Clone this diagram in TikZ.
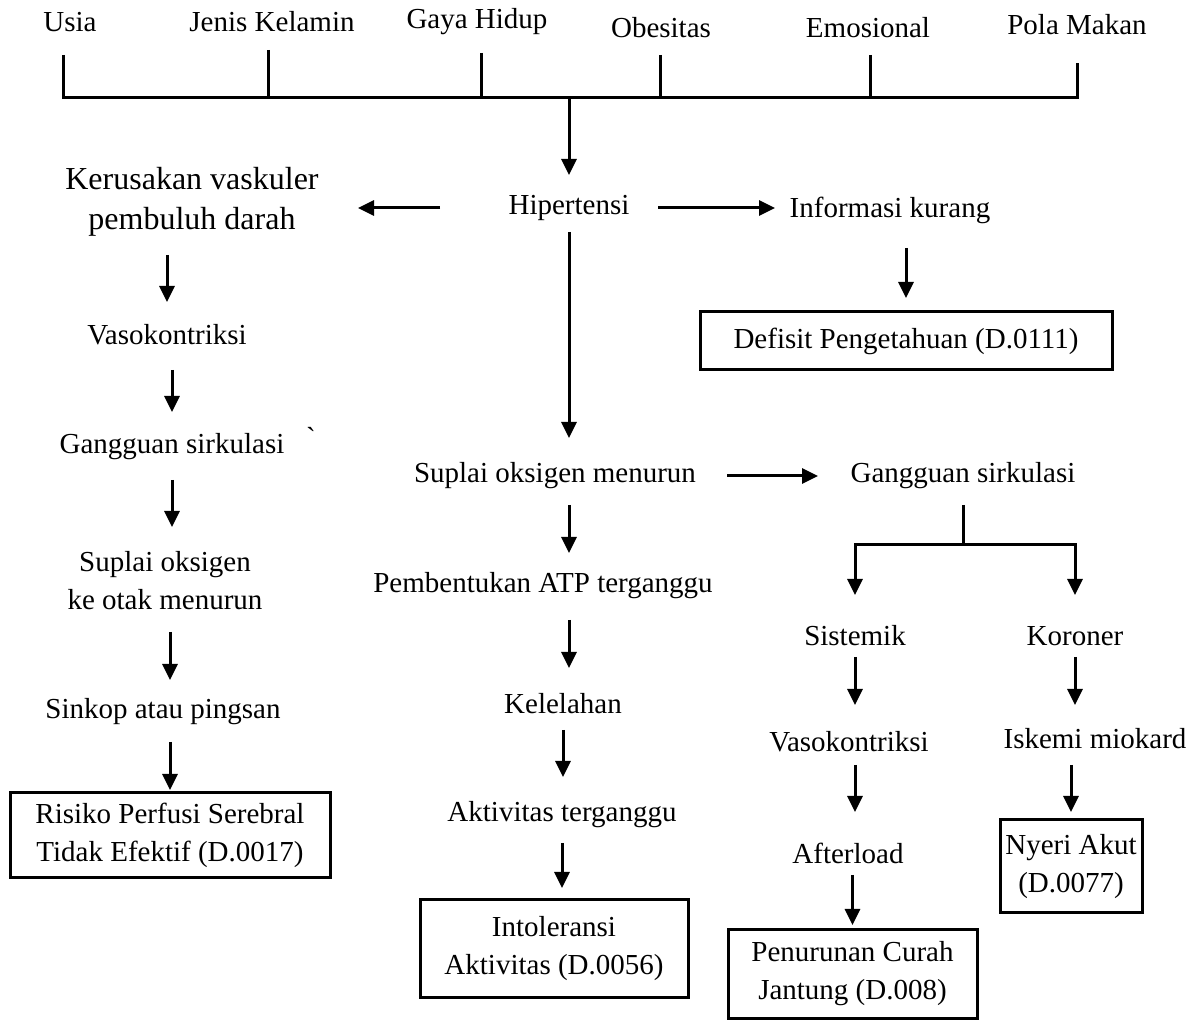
\documentclass[tikz,border=0pt]{standalone}
\usepackage{fontspec}
\setmainfont{Liberation Serif}
\usetikzlibrary{arrows.meta}

\begin{document}
\begin{tikzpicture}[x=0.5pt,y=-0.5pt,
        txt/.style={font=\fontsize{14.5}{19}\selectfont, align=center, inner sep=1pt},
        bigtxt/.style={font=\fontsize{16}{20}\selectfont, align=center, inner sep=1pt},
        box/.style={txt, draw, line width=1.5pt},
        ln/.style={line width=1.5pt},
        arr/.style={line width=1.5pt, -{Triangle[width=7.5pt,length=8pt]}}]
        \useasboundingbox (0,0) rectangle (1200,1020);

        % faktor risiko
        \node[txt] (usia) at (70,22) {Usia};
        \node[txt] (jenis) at (272,22) {Jenis Kelamin};
        \node[txt] (gaya) at (477,22) {Gaya Hidup};
        \node[txt] (obes) at (661,28) {Obesitas};
        \node[txt] (emosi) at (868,28) {Emosional};
        \node[txt] (pola) at (1077,25) {Pola Makan};

        \draw[ln] (63,55) -- (63,98) -- (1077,98) -- (1077,63);
        \draw[ln] (268,50) -- (268,98);
        \draw[ln] (481,53) -- (481,98);
        \draw[ln] (660,55) -- (660,98);
        \draw[ln] (870,55) -- (870,98);
        \coordinate (bar) at (569,98);

        % tengah
        \node[txt] (hip) at (569,208) {Hipertensi};
        \node[bigtxt] (kerusakan) at (192,202) {Kerusakan vaskuler\\pembuluh darah};
        \node[txt] (info) at (890,210) {Informasi kurang};
        \node[box, minimum width=206pt, minimum height=29pt] (defisit) at (906,341) {Defisit Pengetahuan (D.0111)};

        % kiri
        \node[txt] (vasoA) at (167,335) {Vasokontriksi};
        \node[txt] (gangA) at (172,447) {Gangguan sirkulasi};
        \node[txt] (tick) at (311,437) {\textasciigrave};
        \node[txt] (suplaiA) at (165,581) {Suplai oksigen\\ke otak menurun};
        \node[txt] (sinkop) at (163,712) {Sinkop atau pingsan};
        \node[box, minimum width=160pt, minimum height=42.5pt] (risiko) at (170,835.5) {Risiko Perfusi Serebral\\Tidak Efektif (D.0017)};

        % tengah bawah
        \node[txt] (suplaiB) at (555,476) {Suplai oksigen menurun};
        \node[txt] (atp) at (543,586) {Pembentukan ATP terganggu};
        \node[txt] (lelah) at (563,704) {Kelelahan};
        \node[txt] (aktiv) at (562,815) {Aktivitas terganggu};
        \node[box, minimum width=134pt, minimum height=48.5pt] (intol) at (554,948.5) {Intoleransi\\Aktivitas (D.0056)};

        % kanan
        \node[txt] (gangB) at (963,476) {Gangguan sirkulasi};
        \coordinate (split) at (965,545);
        \node[txt] (sistem) at (855,636) {Sistemik};
        \node[txt] (koroner) at (1075,636) {Koroner};
        \node[txt] (vasoB) at (849,742) {Vasokontriksi};
        \node[txt] (iskemi) at (1095,739) {Iskemi miokard};
        \node[txt] (after) at (848,853) {Afterload};
        \node[box, minimum width=124.5pt, minimum height=44pt] (curah) at (852.5,974) {Penurunan Curah\\Jantung (D.008)};
        \node[box, minimum width=71pt, minimum height=46.5pt] (nyeri) at (1071,866.5) {Nyeri Akut\\(D.0077)};

        \draw[arr, shorten >=16.5pt] (bar) -- (hip.center);
        \draw[arr, shorten <=64.5pt, shorten >=83pt] (hip.center) -- (hip.center -| kerusakan.center);
        \draw[arr, shorten <=44.5pt, shorten >=57.5pt] (hip.center) -- (hip.center -| info.center);
        \draw[arr, shorten <=19pt, shorten >=21.5pt] (defisit.center |- info.center) -- (defisit.center);

        \draw[arr, shorten <=26.5pt, shorten >=16.5pt] (vasoA.center |- kerusakan.center) -- (vasoA.center);
        \draw[arr, shorten <=17.5pt, shorten >=17.5pt] (gangA.center |- vasoA.center) -- (gangA.center);
        \draw[arr, shorten <=16.5pt, shorten >=27pt] (gangA.center) -- (gangA.center |- suplaiA.center);
        \draw[arr, shorten <=25.5pt, shorten >=16pt] (risiko.center |- suplaiA.center) -- (risiko.center |- sinkop.center);
        \draw[arr, shorten <=15pt, shorten >=22.75pt] (risiko.center |- sinkop.center) -- (risiko.center);

        \draw[arr, shorten <=12pt, shorten >=19pt] (hip.center) -- (hip.center |- suplaiB.center);
        \draw[arr, shorten <=86pt, shorten >=72.5pt] (suplaiB.center) -- (suplaiB.center -| gangB.center);
        \draw[arr, shorten <=14.5pt, shorten >=16.5pt] (hip.center |- suplaiB.center) -- (hip.center |- atp.center);
        \draw[arr, shorten <=17pt, shorten >=18pt] (hip.center |- atp.center) -- (hip.center |- lelah.center);
        \draw[arr, shorten <=13pt, shorten >=19pt] (lelah.center) -- (lelah.center |- aktiv.center);
        \draw[arr, shorten <=14pt, shorten >=30.25pt] (aktiv.center) -- (aktiv.center |- intol.center);

        \draw[ln, shorten <=14.5pt] (gangB.center) -- (gangB.center |- split);
        \draw[arr, shorten >=20.5pt] (split) -| (sistem.center);
        \draw[arr, shorten >=20.5pt] (split) -| (koroner.center);
        \draw[arr, shorten <=10.5pt, shorten >=18.5pt] (sistem.center) -- (sistem.center |- vasoB.center);
        \draw[arr, shorten <=10.5pt, shorten >=17pt] (koroner.center) -- (koroner.center |- iskemi.center);
        \draw[arr, shorten <=11.5pt, shorten >=20.5pt] (sistem.center |- vasoB.center) -- (sistem.center |- after.center);
        \draw[arr, shorten <=13pt, shorten >=27.25pt] (nyeri.center |- iskemi.center) -- (nyeri.center);
        \draw[arr, shorten <=11pt, shorten >=24.5pt] (curah.center |- after.center) -- (curah.center);
\end{tikzpicture}
\end{document}
